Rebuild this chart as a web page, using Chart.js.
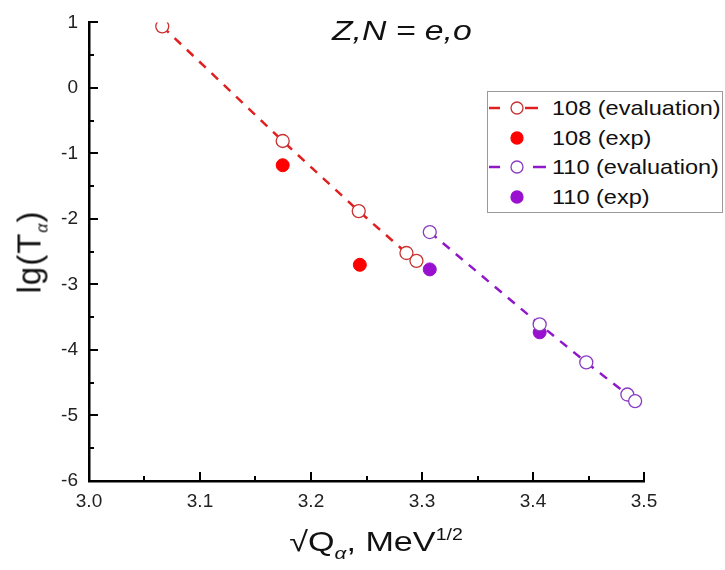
<!DOCTYPE html>
<html>
<head>
<meta charset="utf-8">
<script src="https://cdn.jsdelivr.net/npm/chart.js@4.4.1/dist/chart.umd.min.js"></script>
<style>
  html, body { margin: 0; padding: 0; background: #fff; }
  #wrap { position: relative; width: 725px; height: 570px; font-family: Arial, "Liberation Sans", sans-serif; color: #111; }
  #myChart { position: absolute; left: 0; top: 0; }
  .title { position: absolute; left: 332px; top: 16px; font-size: 27px; font-style: italic; transform: scaleX(1.25); transform-origin: left top; white-space: nowrap; }
  .ytitle { position: absolute; left: 31px; top: 252px; font-size: 33px; transform: translate(-50%, -50%) rotate(-90deg); white-space: nowrap; letter-spacing: 1px; }
  .ytitle sub { font-size: 16px; vertical-align: -7px; font-style: italic; }
  .xtitle { position: absolute; left: 376px; top: 545px; font-size: 28px; transform: translate(-50%, -50%) scaleX(1.22); white-space: nowrap; }
  .xtitle sub { font-size: 17px; vertical-align: -8px; font-style: italic; }
  .xtitle sup { font-size: 16px; vertical-align: 11px; }
  #legend { position: absolute; left: 487px; top: 91px; width: 236px; height: 122px; border: 1px solid #9a9a9a; box-sizing: border-box; background: #fff; }
  #legend .row { position: absolute; left: 0; height: 30px; display: flex; align-items: center; white-space: nowrap; }
  #legend .txt { font-size: 21px; display: inline-block; transform: scaleX(1.12); transform-origin: left center; }
</style>
</head>
<body>
<div id="wrap">
  <canvas id="myChart" width="725" height="570"></canvas>
  <div class="title">Z,N = e,o</div>
  <div class="ytitle">lg(T<sub>α</sub>)</div>
  <div class="xtitle">√Q<sub>α</sub>, MeV<sup>1/2</sup></div>
  <div id="legend"></div>
</div>
<script>
var x108eval = [3.066, 3.1745, 3.243, 3.286, 3.295];
var y108eval = [0.94, -0.81, -1.88, -2.52, -2.64];
var x108exp = [3.1745, 3.244];
var y108exp = [-1.18, -2.70];
var x110eval = [3.307, 3.406, 3.448, 3.485, 3.492];
var y110eval = [-2.20, -3.61, -4.19, -4.68, -4.78];
var x110exp = [3.307, 3.406];
var y110exp = [-2.77, -3.73];
var xTicks = ["3.0", "3.1", "3.2", "3.3", "3.4", "3.5"];
var yTicks = ["1", "0", "-1", "-2", "-3", "-4", "-5", "-6"];
var labels = ["108 (evaluation)", "108 (exp)", "110 (evaluation)", "110 (exp)"];

function pts(xs, ys) {
    return xs.map(function (x, i) { return { x: x, y: ys[i] }; });
}

function isMajor(v, step) {
    var q = v / step;
    return Math.abs(q - Math.round(q)) < 1e-6;
}

// inward tick marks, long on labelled values, short in between
var innerTicks = {
    id: 'innerTicks',
    afterDraw: function (chart) {
        var c = chart.ctx, a = chart.chartArea;
        var xs = chart.scales.x, ys = chart.scales.y;
        c.save();
        c.strokeStyle = '#000';
        c.lineWidth = 2;
        xs.ticks.forEach(function (t) {
            var px = Math.round(xs.getPixelForValue(t.value));
            var len = isMajor(t.value, 0.1) ? 9 : 5;
            c.beginPath(); c.moveTo(px, a.bottom); c.lineTo(px, a.bottom - len); c.stroke();
        });
        ys.ticks.forEach(function (t) {
            var py = Math.round(ys.getPixelForValue(t.value));
            var len = isMajor(t.value, 1) ? 9 : 5;
            c.beginPath(); c.moveTo(a.left, py); c.lineTo(a.left + len, py); c.stroke();
        });
        c.restore();
    }
};

var ctx = document.getElementById("myChart");
var myChart = new Chart(ctx, {
    type: 'scatter',
    data: {
        datasets: [
            {
                label: labels[0],
                data: pts(x108eval, y108eval),
                showLine: true,
                borderColor: '#e02020',
                borderWidth: 2.5,
                borderDash: [9, 8],
                pointBorderColor: '#c83232',
                pointBackgroundColor: '#ffffff',
                pointBorderWidth: 1.3,
                pointRadius: 6.5
            },
            {
                label: labels[1],
                data: pts(x108exp, y108exp),
                showLine: false,
                borderColor: '#ff0000',
                pointBorderColor: '#ff0000',
                pointBackgroundColor: '#ff0000',
                pointRadius: 6.5
            },
            {
                label: labels[2],
                data: pts(x110eval, y110eval),
                showLine: true,
                borderColor: '#8f18c8',
                borderWidth: 2.5,
                borderDash: [9, 8],
                pointBorderColor: '#8a3cc0',
                pointBackgroundColor: '#ffffff',
                pointBorderWidth: 1.3,
                pointRadius: 6.5
            },
            {
                label: labels[3],
                data: pts(x110exp, y110exp),
                showLine: false,
                borderColor: '#9a10d0',
                pointBorderColor: '#9a10d0',
                pointBackgroundColor: '#9a10d0',
                pointRadius: 6.5
            }
        ]
    },
    options: {
        responsive: false,
        animation: false,
        layout: { padding: { left: 0, top: 11, right: 81, bottom: 0 } },
        plugins: { legend: { display: false }, tooltip: { enabled: false } },
        scales: {
            x: {
                type: 'linear',
                min: 3.0,
                max: 3.5,
                grid: { display: false, drawTicks: false },
                border: { display: true, color: '#000', width: 2.5 },
                afterFit: function (s) { s.height = 89; },
                ticks: {
                    stepSize: 0.05,
                    autoSkip: false,
                    maxRotation: 0,
                    padding: 9,
                    color: '#222',
                    font: { family: 'Arial', size: 19 },
                    callback: function (v) {
                        if (!isMajor(v, 0.1)) return '';
                        return xTicks[Math.round((v - 3.0) * 10)];
                    }
                }
            },
            y: {
                type: 'linear',
                min: -6,
                max: 1,
                grid: { display: false, drawTicks: false },
                border: { display: true, color: '#000', width: 2.5 },
                afterFit: function (s) { s.width = 89; },
                ticks: {
                    stepSize: 0.5,
                    autoSkip: false,
                    padding: 11,
                    color: '#222',
                    font: { family: 'Arial', size: 19 },
                    callback: function (v) {
                        if (!isMajor(v, 1)) return '';
                        return yTicks[Math.round(1 - v)];
                    }
                }
            }
        }
    },
    plugins: [innerTicks]
});

// legend built from the datasets
var leg = document.getElementById('legend');
myChart.data.datasets.forEach(function (ds, i) {
    var row = document.createElement('div');
    row.className = 'row';
    row.style.top = (1 + i * 29.5) + 'px';
    var svg = '<svg width="64" height="20" viewBox="0 0 64 20">';
    if (ds.showLine) {
        svg += '<line x1="1" y1="10" x2="12" y2="10" stroke="' + ds.borderColor + '" stroke-width="2.5"/>';
        svg += '<line x1="' + (i === 0 ? 37 : 45) + '" y1="10" x2="' + (i === 0 ? 50 : 58) + '" y2="10" stroke="' + ds.borderColor + '" stroke-width="2.5"/>';
    }
    svg += '<circle cx="29" cy="10" r="6" fill="' + ds.pointBackgroundColor + '" stroke="' + ds.pointBorderColor + '" stroke-width="1.3"/>';
    svg += '</svg>';
    row.innerHTML = svg + '<span class="txt">' + ds.label + '</span>';
    leg.appendChild(row);
});
</script>
</body>
</html>
